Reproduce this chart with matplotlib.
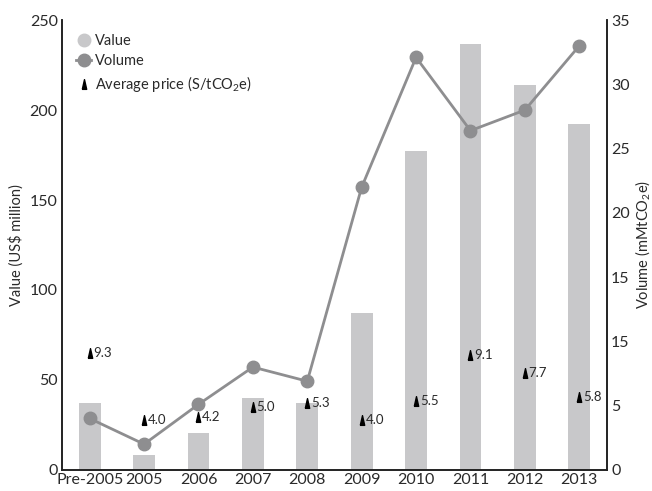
import numpy as np
import matplotlib
matplotlib.use("Agg")
import matplotlib.pyplot as plt
from matplotlib.lines import Line2D

plt.rcParams['font.family'] = ['Lato', 'DejaVu Sans']
plt.rcParams['mathtext.fontset'] = 'custom'
plt.rcParams['mathtext.rm'] = 'Lato'
plt.rcParams['mathtext.default'] = 'rm'

years = ["Pre-2005", "2005", "2006", "2007", "2008", "2009",
         "2010", "2011", "2012", "2013"]
value = [37, 8.5, 20.5, 40, 37, 87, 177, 237, 214, 192]
volume = [4.0, 2.0, 5.1, 8.0, 6.9, 22.0, 32.1, 26.4, 28.0, 33.0]
price = [9.3, 4.0, 4.2, 5.0, 5.3, 4.0, 5.5, 9.1, 7.7, 5.8]
right_ticks = [0, 5, 10, 15, 20, 25, 30, 35]
right_labels = ["0", "5", "15", "15", "20", "25", "30", "35"]

BAR = '#c8c8ca'
LINE = '#8e8e90'
TXT = '#2a2a2a'
PRICE_SCALE = 7.0   # price markers are drawn on the value axis

tri = [(-0.45, -1), (0.45, -1), (0, 1), (-0.45, -1)]

x = np.arange(len(years))
fig = plt.figure(figsize=(6.52, 4.91), dpi=100)
ax = fig.add_axes([0.095, 0.043, 0.836, 0.916])
ax2 = ax.twinx()

ax.bar(x, value, width=0.4, color=BAR, zorder=1)
ax2.plot(x, volume, color=LINE, lw=2, marker='o', markersize=9,
         markeredgecolor=LINE, zorder=3)

for xi, p in zip(x, price):
    ax.plot(xi, p * PRICE_SCALE, marker=tri, color='black', markersize=7,
            linestyle='none', zorder=4)
    ax.text(xi + 0.07, p * PRICE_SCALE, "%.1f" % p, fontsize=9.5, color=TXT,
            va='center', ha='left', zorder=4)

ax.set_xlim(-0.51, len(years) - 0.49)
ax.set_ylim(0, 250)
ax2.set_ylim(0, 35)
ax.set_yticks([0, 50, 100, 150, 200, 250])
ax2.set_yticks(right_ticks)
ax2.set_yticklabels(right_labels)
ax.set_xticks(x)
ax.set_xticklabels(years)

for a in (ax, ax2):
    a.spines['top'].set_visible(False)
    for s in a.spines.values():
        s.set_linewidth(1.2)
        s.set_color('#222222')
    a.tick_params(length=0, labelsize=11.5, colors=TXT, pad=2)
ax.tick_params(axis='y', pad=3)
ax2.tick_params(axis='y', pad=3)
ax.set_zorder(ax2.get_zorder() - 1)
ax.patch.set_visible(True)
ax2.patch.set_visible(False)

ax.set_ylabel(r"Value (US\$ million)", fontsize=10.5, color=TXT, labelpad=4)
ax2.set_ylabel(r"Volume (mMtCO$_2$e)", fontsize=10.5, color=TXT, labelpad=2)

handles = [
    Line2D([], [], marker='o', color=BAR, linestyle='none', markersize=9),
    Line2D([], [], marker='o', color=LINE, lw=2, markersize=9),
    Line2D([], [], marker=tri, color='black', linestyle='none', markersize=7),
]
labels = ["Value", "Volume", r"Average price (S/tCO$_2$e)"]
leg = ax2.legend(handles, labels, loc='upper left', bbox_to_anchor=(0.005, 0.995),
                 frameon=False, fontsize=10.5, handlelength=1.0,
                 handletextpad=0.3, labelspacing=0.4, borderaxespad=0.4)
for t in leg.get_texts():
    t.set_color(TXT)

fig.savefig("out.png", dpi=100)
